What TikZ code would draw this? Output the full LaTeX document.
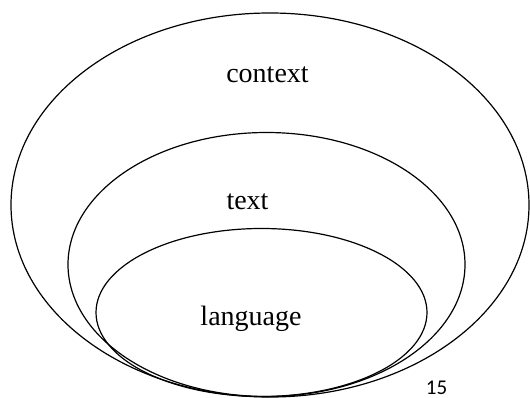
\documentclass[tikz,border=0pt]{standalone}
\usepackage{fontspec}
\setmainfont{Liberation Serif}
\newfontfamily\numfont{Carlito}
\begin{document}
\begin{tikzpicture}[x=1pt,y=-1pt,
  ring/.style={draw=black,line width=1.2pt},
  lbl/.style={anchor=base,inner sep=0pt,font=\fontsize{28}{32}\selectfont}]
\useasboundingbox (0,0) rectangle (530,398);
\draw[ring] (270,205) ellipse [x radius=259,y radius=192];
\draw[ring] (266.5,264.5) ellipse [x radius=198.5,y radius=132];
\draw[ring] (261.5,312.5) ellipse [x radius=165.5,y radius=84];
\node[lbl] (context) at (267.5,83) {context};
\node[lbl] (text) at (247.5,210) {text};
\node[lbl] (language) at (251,325) {language};
\node[anchor=base,inner sep=0pt,font=\numfont\fontsize{21}{24}\selectfont] (page) at (436.5,394) {15};
\end{tikzpicture}
\end{document}
